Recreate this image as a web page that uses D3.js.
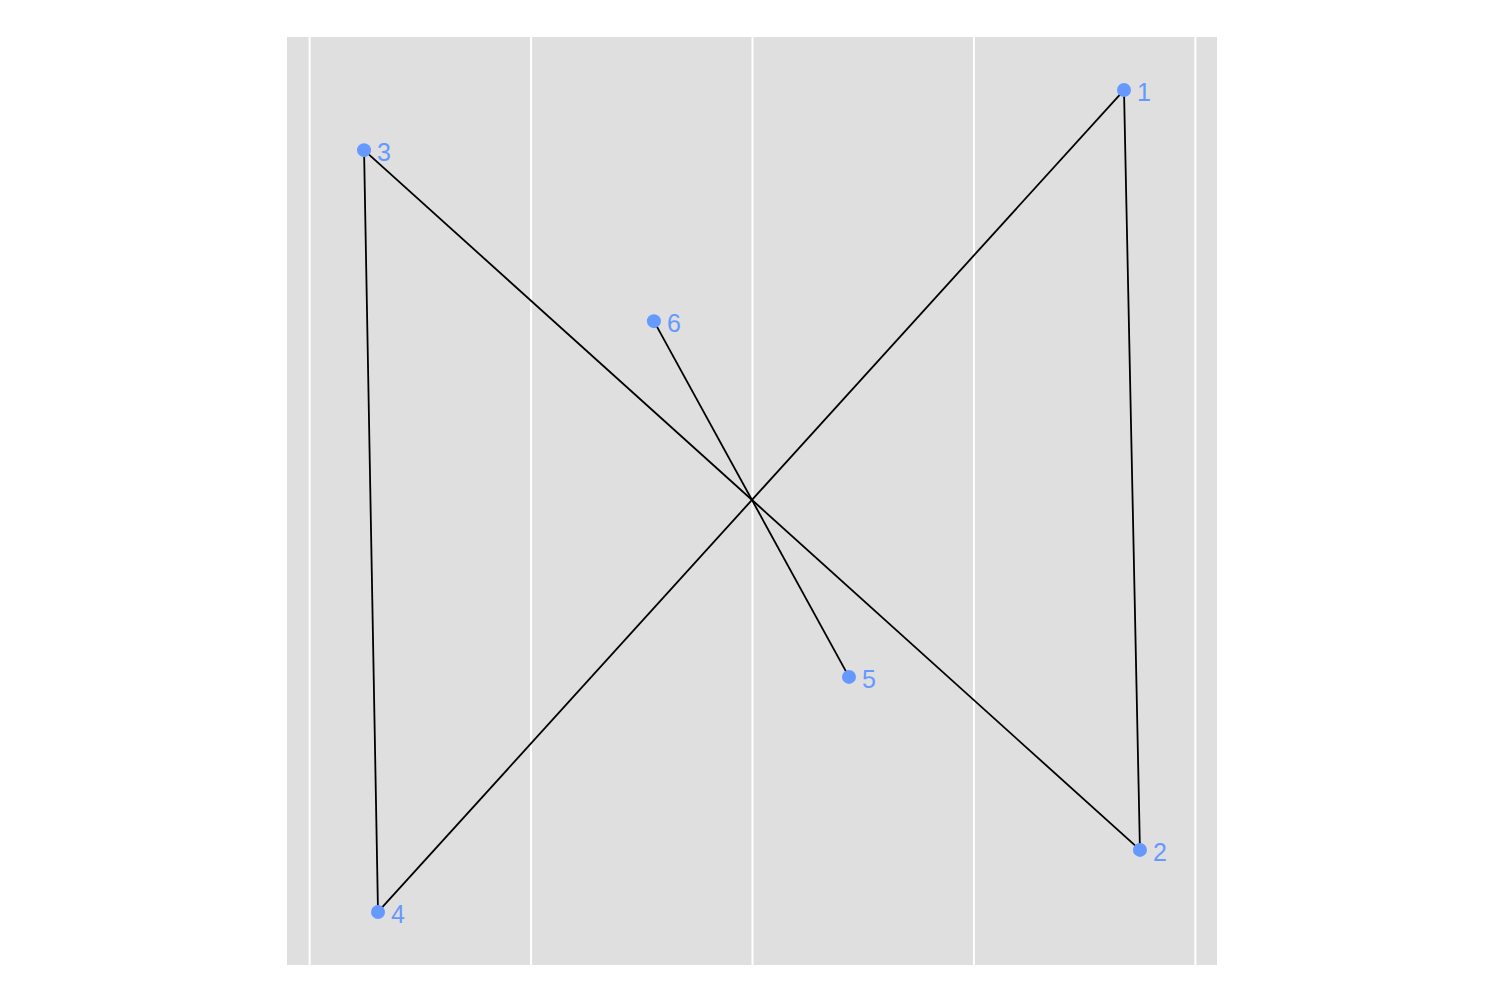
<!DOCTYPE html>
<html>
<head>
<meta charset="utf-8">
<script src="https://cdn.jsdelivr.net/npm/d3@7"></script>
<style>
  html, body { margin: 0; padding: 0; background: #ffffff; }
  svg { display: block; }
</style>
</head>
<body>
<svg id="chart" width="1506" height="1004"></svg>
<script>
// Data
const labels = ["1", "2", "3", "4", "5", "6"];
const xValues = [1.68, 1.752, -1.752, -1.689, 0.438, -0.443];
const yValues = [1.86, -1.579, 1.588, -1.86, -0.796, 0.814];
const segments = [[0, 1], [1, 2], [2, 3], [3, 0], [5, 4]];
const xTicks = [-2, -1, 0, 1, 2];
const xDomain = [-2.1, 2.1];
const yDomain = [-2.1, 2.1];

const points = labels.map((l, i) => ({ label: l, x: xValues[i], y: yValues[i] }));

const svg = d3.select("#chart");
const panel = { left: 287, right: 1217, top: 37, bottom: 965 };

const x = d3.scaleLinear().domain(xDomain).range([panel.left, panel.right]);
const y = d3.scaleLinear().domain(yDomain).range([panel.bottom, panel.top]);

svg.append("rect")
  .attr("x", panel.left).attr("y", panel.top)
  .attr("width", panel.right - panel.left)
  .attr("height", panel.bottom - panel.top)
  .attr("fill", "#dfdfdf");

const grid = d3.axisBottom(x).tickValues(xTicks)
  .tickSize(-(panel.bottom - panel.top)).tickFormat("");
svg.append("g")
  .attr("transform", `translate(0,${panel.bottom})`)
  .call(grid)
  .call(g => g.select(".domain").remove())
  .call(g => g.selectAll(".tick line").attr("stroke", "#ffffff").attr("stroke-width", 2));

svg.append("g").selectAll("line")
  .data(segments)
  .join("line")
  .attr("x1", d => x(points[d[0]].x))
  .attr("y1", d => y(points[d[0]].y))
  .attr("x2", d => x(points[d[1]].x))
  .attr("y2", d => y(points[d[1]].y))
  .attr("stroke", "#000000")
  .attr("stroke-width", 1.8);

svg.append("g").selectAll("circle")
  .data(points)
  .join("circle")
  .attr("cx", d => x(d.x))
  .attr("cy", d => y(d.y))
  .attr("r", 7)
  .attr("fill", "#6699ff");

svg.append("g").selectAll("text")
  .data(points)
  .join("text")
  .attr("x", d => x(d.x) + 13)
  .attr("y", d => y(d.y) + 11)
  .attr("font-family", "Liberation Sans, Arial, sans-serif")
  .attr("font-size", 25)
  .attr("fill", "#6699ff")
  .text(d => d.label);
</script>
</body>
</html>
